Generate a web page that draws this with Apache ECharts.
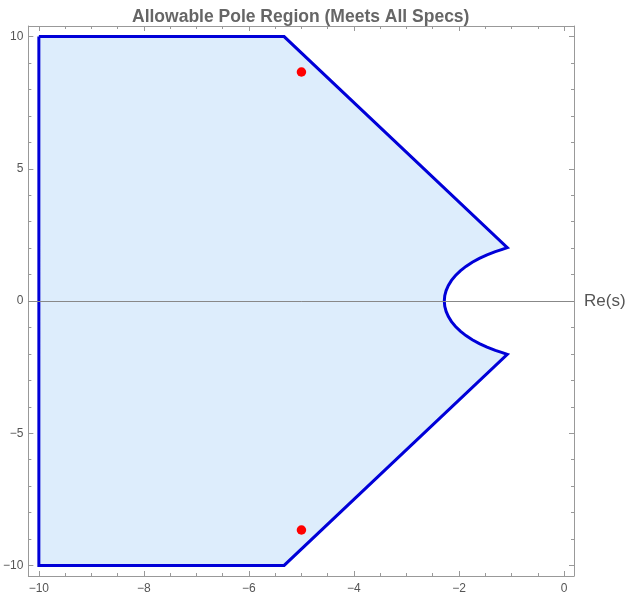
<!DOCTYPE html>
<html>
<head>
<meta charset="utf-8">
<script src="https://cdn.jsdelivr.net/npm/echarts@6/dist/echarts.min.js"></script>
<style>
  html, body { margin: 0; padding: 0; background: #fff; }
  #chart { width: 637px; height: 602px; }
</style>
</head>
<body>
<div id="chart"></div>
<script>
// region boundary, clockwise from top-left
const regionX = [-10, -5.33, -1.08, -1.19, -1.308, -1.466, -1.612, -1.747, -1.868, -1.975, -2.066, -2.143, -2.202, -2.245, -2.271, -2.28,
  -2.271, -2.245, -2.202, -2.143, -2.066, -1.975, -1.868, -1.747, -1.612, -1.466, -1.308, -1.19, -1.08, -5.33, -10];
const regionY = [10, 10, 2.02, 1.944, 1.868, 1.747, 1.612, 1.466, 1.308, 1.14, 0.964, 0.78, 0.59, 0.396, 0.199, 0,
  -0.199, -0.396, -0.59, -0.78, -0.964, -1.14, -1.308, -1.466, -1.612, -1.747, -1.868, -1.944, -2.02, -10, -10];

// closed-loop poles
const poleX = [-5, -5];
const poleY = [8.66, -8.66];

// ticks
const xMajorTicks = [-10, -8, -6, -4, -2, 0];
const xMinorTicks = [-9.5, -9, -8.5, -7.5, -7, -6.5, -5.5, -5, -4.5, -3.5, -3, -2.5, -1.5, -1, -0.5];
const yMajorTicks = [-10, -5, 0, 5, 10];
const yMinorTicks = [-9, -8, -7, -6, -4, -3, -2, -1, 1, 2, 3, 4, 6, 7, 8, 9];

const xMin = -10.2, xMax = 0.19;
const yMin = -10.4, yMax = 10.4;

const regionPts = regionX.map((x, i) => [x, regionY[i]]);
const polePts = poleX.map((x, i) => [x, poleY[i]]);

const frameColor = '#999';
const labelColor = '#555';
const fmt = v => String(v).replace('-', '\u2212');

const makeAxis = (position, min, max, ticks, len, showLabel) => ({
  type: 'value',
  position: position,
  min: min,
  max: max,
  axisLine: { show: showLabel !== null, onZero: false, lineStyle: { color: frameColor, width: 1 } },
  axisTick: { show: true, inside: true, length: len, customValues: ticks, lineStyle: { color: frameColor } },
  axisLabel: showLabel
    ? { show: true, customValues: ticks, formatter: fmt, color: labelColor, fontSize: 12,
        fontFamily: 'Liberation Sans, Arial, sans-serif', margin: (position === 'bottom' ? 7 : 5) }
    : { show: false },
  splitLine: { show: false },
  minorTick: { show: false }
});

const chart = echarts.init(document.getElementById('chart'));

chart.setOption({
  animation: false,
  title: {
    text: 'Allowable Pole Region (Meets All Specs)',
    left: 127,
    top: 3,
    textStyle: { fontSize: 17.5, fontWeight: 'bold', color: '#666', fontFamily: 'Liberation Sans, Arial, sans-serif' }
  },
  grid: { left: 27, right: 63, top: 26, bottom: 26 },
  xAxis: [
    makeAxis('bottom', xMin, xMax, xMajorTicks, 5, true),
    makeAxis('bottom', xMin, xMax, xMinorTicks, 3, null),
    makeAxis('top', xMin, xMax, xMajorTicks, 5, false),
    makeAxis('top', xMin, xMax, xMinorTicks, 3, null)
  ],
  yAxis: [
    makeAxis('left', yMin, yMax, yMajorTicks, 5, true),
    makeAxis('left', yMin, yMax, yMinorTicks, 3, null),
    makeAxis('right', yMin, yMax, yMajorTicks, 5, false),
    makeAxis('right', yMin, yMax, yMinorTicks, 3, null)
  ],
  series: [
    {
      // shaded region
      type: 'custom',
      z: 1,
      clip: true,
      data: [0],
      renderItem: (params, api) => ({
        type: 'polygon',
        shape: { points: regionPts.map(p => api.coord(p)) },
        style: { fill: '#ddedfc', stroke: 'none' }
      })
    },
    {
      // real axis with label
      type: 'line',
      z: 2,
      data: [],
      markLine: {
        silent: true,
        symbol: 'none',
        lineStyle: { color: '#888', width: 1, type: 'solid' },
        label: {
          show: true,
          position: 'end',
          formatter: 'Re(s)',
          color: labelColor,
          fontSize: 17,
          distance: 10,
          fontFamily: 'Liberation Sans, Arial, sans-serif'
        },
        data: [{ yAxis: 0 }]
      }
    },
    {
      // boundary
      type: 'line',
      z: 3,
      data: regionPts.concat([regionPts[0]]),
      symbol: 'none',
      lineStyle: { color: '#0000d8', width: 3, join: 'miter' },
      silent: true
    },
    {
      type: 'scatter',
      z: 4,
      data: polePts,
      symbolSize: 9.5,
      itemStyle: { color: '#ff0000', opacity: 1 }
    }
  ]
});
</script>
</body>
</html>
